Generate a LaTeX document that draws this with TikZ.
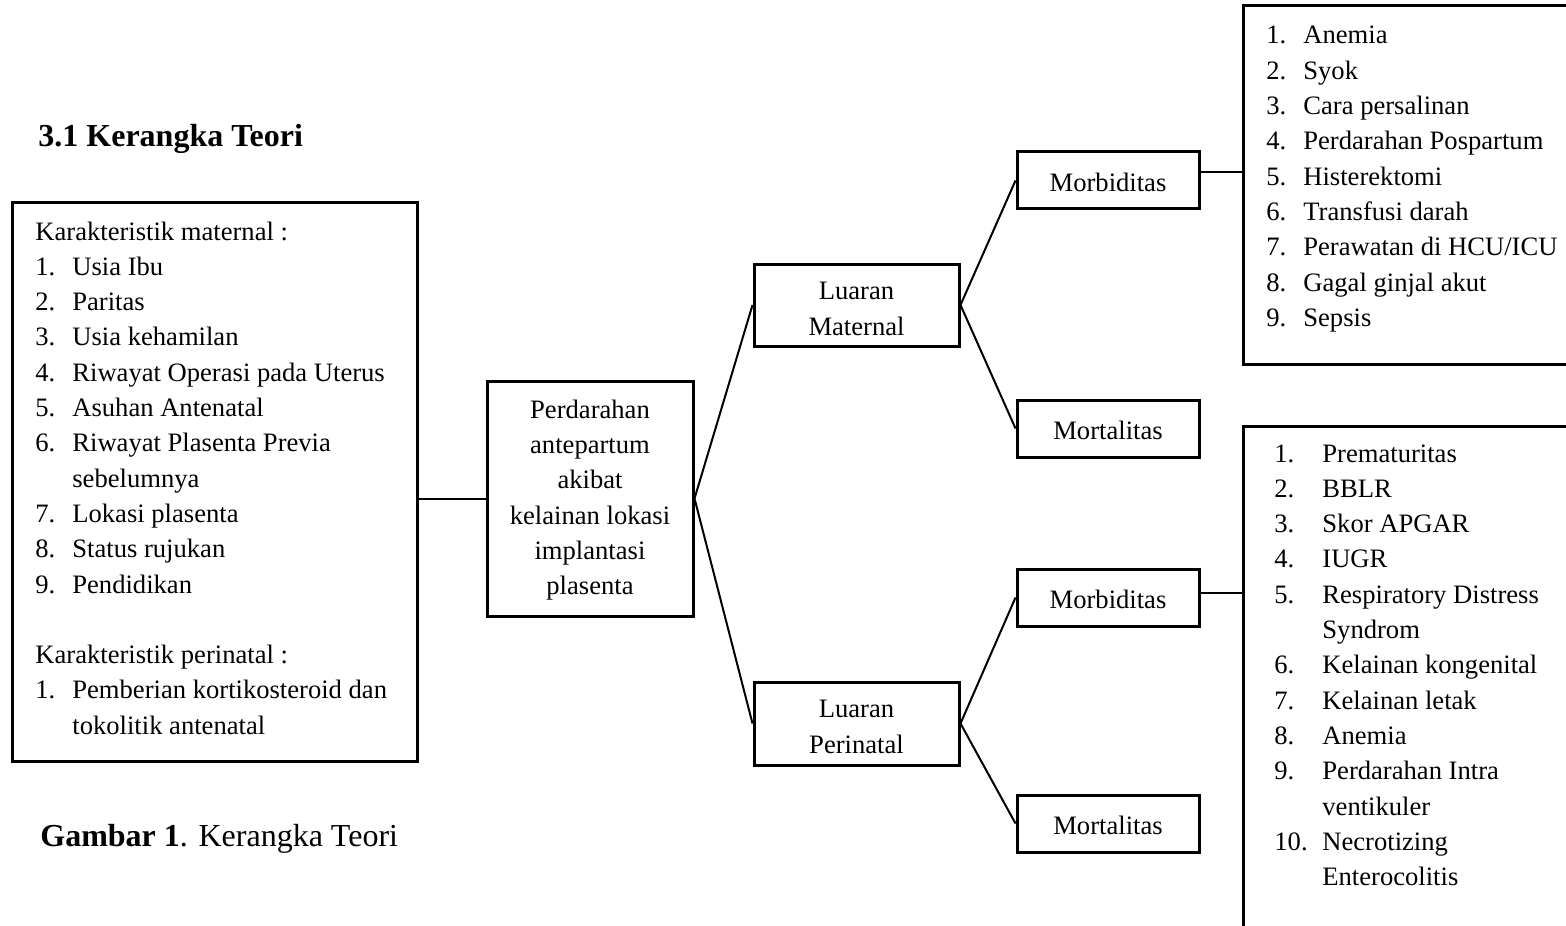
\documentclass[tikz,border=0pt]{standalone}
\usepackage{fontspec}
\setmainfont{Liberation Serif}
\usepackage{array}
\usetikzlibrary{calc}
\begin{document}
\begin{tikzpicture}[x=0.5pt,y=-0.5pt,
  box/.style={draw, line width=1.5pt, inner sep=0pt},
  conn/.style={line width=1pt},
  txt/.style={font=\fontsize{13.3}{17.65}\selectfont, inner sep=0pt},
  ctxt/.style={font=\fontsize{13.3}{17.65}\selectfont, inner sep=0pt, align=center}]
\useasboundingbox (0,0) rectangle (1566,925);
\clip (0,0) rectangle (1566,925);

% titles
\node[anchor=base west, inner sep=0pt, font=\fontsize{16}{19}\selectfont\bfseries] (title) at (38,147) {3.1 Kerangka Teori};
\node[anchor=base west, inner sep=0pt, font=\fontsize{16}{19}\selectfont] (caption) at (40,846) {\textbf{Gambar 1}. Kerangka Teori};

% boxes
\node[box, minimum width=202.5pt, minimum height=279pt] (L) at (214.5,482) {};
\node[box, minimum width=103pt, minimum height=117.5pt] (C) at (590,498.5) {};
\node[box, minimum width=102.5pt, minimum height=41pt] (LM) at (856.5,305) {};
\node[box, minimum width=102.5pt, minimum height=41.5pt] (LP) at (856.5,723.5) {};
\node[box, minimum width=91pt, minimum height=28.5pt] (Mb1) at (1108,180.5) {};
\node[box, minimum width=91pt, minimum height=28.5pt] (Mt1) at (1108,428.5) {};
\node[box, minimum width=91pt, minimum height=28.5pt] (Mb2) at (1108,597.5) {};
\node[box, minimum width=91pt, minimum height=28.5pt] (Mt2) at (1108,823.5) {};
\node[box, minimum width=178.5pt, minimum height=179pt] (RT) at (1421.5,185) {};
\node[box, minimum width=178.5pt, minimum height=267pt] (RB) at (1421.5,693) {};

% texts in boxes
\node[ctxt] (Ct) at (590,500) {Perdarahan\\antepartum\\akibat\\kelainan lokasi\\implantasi\\plasenta};
\node[ctxt] (LMt) at (856.5,309) {Luaran\\Maternal};
\node[ctxt] (LPt) at (856.5,727) {Luaran\\Perinatal};
\node[ctxt] (Mb1t) at (1108,182) {Morbiditas};
\node[ctxt] (Mt1t) at (1108,430) {Mortalitas};
\node[ctxt] (Mb2t) at (1108,599) {Morbiditas};
\node[ctxt] (Mt2t) at (1108,825) {Mortalitas};

\node[txt, anchor=base west] (Lt) at (35,240) {\begin{tabular}[t]{@{}p{18.5pt}@{}l@{}}
\multicolumn{2}{@{}l@{}}{Karakteristik maternal :}\\
1. & Usia Ibu\\
2. & Paritas\\
3. & Usia kehamilan\\
4. & Riwayat Operasi pada Uterus\\
5. & Asuhan Antenatal\\
6. & Riwayat Plasenta Previa\\
   & sebelumnya\\
7. & Lokasi plasenta\\
8. & Status rujukan\\
9. & Pendidikan\\
\multicolumn{2}{@{}l@{}}{}\\
\multicolumn{2}{@{}l@{}}{Karakteristik perinatal :}\\
1. & Pemberian kortikosteroid dan\\
   & tokolitik antenatal
\end{tabular}};

\node[txt, anchor=base west] (RTt) at (1266,44) {\begin{tabular}[t]{@{}p{18.5pt}@{}l@{}}
1. & Anemia\\
2. & Syok\\
3. & Cara persalinan\\
4. & Perdarahan Pospartum\\
5. & Histerektomi\\
6. & Transfusi darah\\
7. & Perawatan di HCU/ICU\\
8. & Gagal ginjal akut\\
9. & Sepsis
\end{tabular}};

\node[txt, anchor=base west] (RBt) at (1274,462) {\begin{tabular}[t]{@{}p{24pt}@{}l@{}}
1. & Prematuritas\\
2. & BBLR\\
3. & Skor APGAR\\
4. & IUGR\\
5. & Respiratory Distress\\
   & Syndrom\\
6. & Kelainan kongenital\\
7. & Kelainan letak\\
8. & Anemia\\
9. & Perdarahan Intra\\
   & ventikuler\\
10. & Necrotizing\\
    & Enterocolitis
\end{tabular}};

% connectors
\draw[conn] (C.west -| L.east) -- (C.west);
\draw[conn] (C.east) -- (LM.west);
\draw[conn] (C.east) -- (LP.west);
\draw[conn] (LM.east) -- (Mb1.west);
\draw[conn] (LM.east) -- (Mt1.west);
\draw[conn] (LP.east) -- (Mb2.west);
\draw[conn] (LP.east) -- (Mt2.west);
\coordinate (m1) at ($(Mb1.north east)!0.36!(Mb1.south east)$);
\coordinate (m2) at ($(Mb2.north east)!0.42!(Mb2.south east)$);
\draw[conn] (m1) -- (m1 -| RT.west);
\draw[conn] (m2) -- (m2 -| RB.west);
\end{tikzpicture}
\end{document}
